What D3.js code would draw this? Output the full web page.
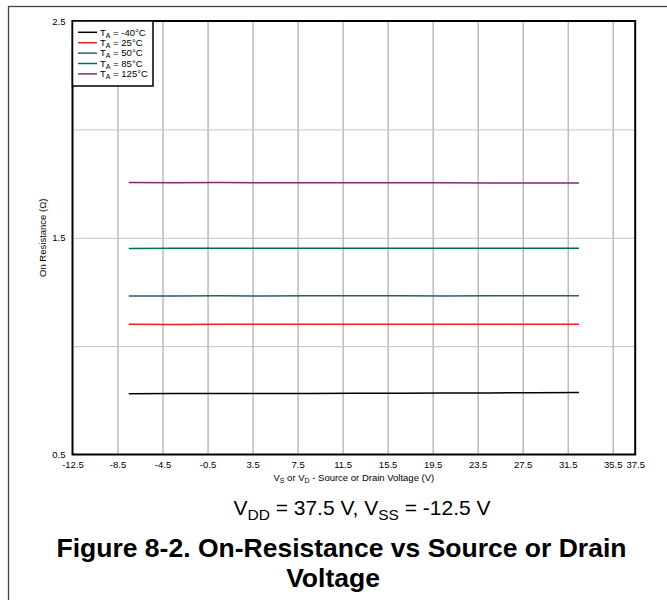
<!DOCTYPE html>
<html><head><meta charset="utf-8">
<script src="https://cdn.jsdelivr.net/npm/d3@7/dist/d3.min.js"></script>
<style>
body{margin:0;background:#fff;}
text{font-family:"Liberation Sans",Arial,Helvetica,sans-serif;}
</style>
</head><body>
<svg id="chart" width="667" height="600"></svg>
<script>
// ---- data ----
const voltages = [-7.5, -3.5, 0.5, 4.5, 8.5, 12.5, 16.5, 20.5, 24.5, 28.5, 32.5];
const temps = ["-40", "25", "50", "85", "125"];
const rMinus40 = [0.780, 0.781, 0.781, 0.782, 0.782, 0.783, 0.783, 0.784, 0.784, 0.785, 0.786];
const r25  = [1.101, 1.100, 1.101, 1.101, 1.101, 1.101, 1.101, 1.101, 1.101, 1.101, 1.101];
const r50  = [1.231, 1.231, 1.232, 1.231, 1.232, 1.232, 1.232, 1.231, 1.232, 1.232, 1.232];
const r85  = [1.450, 1.451, 1.451, 1.452, 1.451, 1.452, 1.452, 1.451, 1.452, 1.452, 1.452];
const r125 = [1.755, 1.754, 1.755, 1.754, 1.754, 1.754, 1.754, 1.754, 1.753, 1.753, 1.753];
const xTickValues = [-12.5, -8.5, -4.5, -0.5, 3.5, 7.5, 11.5, 15.5, 19.5, 23.5, 27.5, 31.5, 35.5, 37.5];
const xGridValues = [-8.5, -4.5, -0.5, 3.5, 7.5, 11.5, 15.5, 19.5, 23.5, 27.5, 31.5, 35.5];
const yTickValues = [0.5, 1.5, 2.5];
const yGridValues = [1.0, 1.5, 2.0];
const colors = ["#000000", "#ee1c25", "#2e5a70", "#00704a", "#7d2d6f"];

const series = [rMinus40, r25, r50, r85, r125].map((vals, i) => ({
  name: temps[i],
  color: colors[i],
  points: voltages.map((v, j) => ({x: v, y: vals[j]}))
}));

// ---- layout ----
const svg = d3.select("#chart");
const L = 72.5, R = 635.2, T = 21, B = 454.5;
const x = d3.scaleLinear().domain([-12.5, 37.5]).range([L, R]);
const y = d3.scaleLinear().domain([0.5, 2.5]).range([B, T]);

// outer frame
svg.append("rect").attr("x", 8.5).attr("y", 6.5).attr("width", 700).attr("height", 700)
  .attr("fill", "none").attr("stroke", "#444").attr("stroke-width", 1.3);

// grid
svg.append("g").attr("transform", `translate(0,${B})`)
  .call(d3.axisBottom(x).tickValues(xGridValues).tickSize(-(B - T)).tickFormat(""))
  .call(g => g.select(".domain").remove())
  .call(g => g.selectAll("line").attr("stroke", "#9a9a9a").attr("stroke-width", 1));
svg.append("g").attr("transform", `translate(${L},0)`)
  .call(d3.axisLeft(y).tickValues(yGridValues).tickSize(-(R - L)).tickFormat(""))
  .call(g => g.select(".domain").remove())
  .call(g => g.selectAll("line").attr("stroke", "#c4c4c4").attr("stroke-width", 1));

// tick labels
svg.append("g").attr("transform", `translate(0,${B + 4})`)
  .call(d3.axisBottom(x).tickValues(xTickValues).tickSize(0).tickFormat(d => d.toFixed(1)))
  .call(g => g.select(".domain").remove())
  .call(g => g.selectAll("text").attr("font-size", 9.5).attr("fill", "#000")
    .attr("font-family", "'Liberation Sans',Arial,sans-serif"));
svg.append("g").attr("transform", `translate(${L - 4},0)`)
  .call(d3.axisLeft(y).tickValues(yTickValues).tickSize(0).tickFormat(d => d.toFixed(1)))
  .call(g => g.select(".domain").remove())
  .call(g => g.selectAll("text").attr("font-size", 9.5).attr("fill", "#000")
    .attr("font-family", "'Liberation Sans',Arial,sans-serif"));

// lines
const line = d3.line().x(d => x(d.x)).y(d => y(d.y));
svg.append("g").selectAll("path").data(series).join("path")
  .attr("d", d => line(d.points)).attr("fill", "none")
  .attr("stroke", d => d.color).attr("stroke-width", 1.5);

// plot border
svg.append("rect").attr("x", L).attr("y", T).attr("width", R - L).attr("height", B - T)
  .attr("fill", "none").attr("stroke", "#000").attr("stroke-width", 2);

// axis titles
const xt = svg.append("text").attr("x", (L + R) / 2).attr("y", 481).attr("text-anchor", "middle")
  .attr("font-size", 9.5).attr("fill", "#000");
xt.append("tspan").text("V");
xt.append("tspan").attr("font-size", 7).attr("dy", 2).text("S");
xt.append("tspan").attr("dy", -2).text(" or V");
xt.append("tspan").attr("font-size", 7).attr("dy", 2).text("D");
xt.append("tspan").attr("dy", -2).text(" - Source or Drain Voltage (V)");

svg.append("text").attr("transform", `translate(46,${(T + B) / 2}) rotate(-90)`)
  .attr("text-anchor", "middle").attr("font-size", 9.5).attr("fill", "#000")
  .text("On Resistance (\u03A9)");

// legend
const lg = svg.append("g");
lg.append("rect").attr("x", L).attr("y", T).attr("width", 80.5).attr("height", 65)
  .attr("fill", "#fff").attr("stroke", "#000").attr("stroke-width", 1.5);
series.forEach((s, i) => {
  const yy = 32.3 + i * 10.4;
  lg.append("line").attr("x1", 78).attr("x2", 97).attr("y1", yy).attr("y2", yy)
    .attr("stroke", s.color).attr("stroke-width", 1.5);
  const t = lg.append("text").attr("x", 100).attr("y", yy + 3.3).attr("font-size", 9.5).attr("fill", "#000");
  t.append("tspan").text("T");
  t.append("tspan").attr("font-size", 7).attr("dy", 2).text("A");
  t.append("tspan").attr("dy", -2).text(" = " + s.name + "\u00B0C");
});

// subtitle
const st = svg.append("text").attr("x", 362).attr("y", 515).attr("text-anchor", "middle")
  .attr("font-size", 21).attr("fill", "#000");
st.append("tspan").text("V");
st.append("tspan").attr("font-size", 15.5).attr("dy", 4.5).text("DD");
st.append("tspan").attr("dy", -4.5).text(" = 37.5 V, V");
st.append("tspan").attr("font-size", 15.5).attr("dy", 4.5).text("SS");
st.append("tspan").attr("dy", -4.5).text(" = -12.5 V");

// figure title
svg.append("text").attr("x", 341.5).attr("y", 557).attr("text-anchor", "middle")
  .attr("font-size", 26.5).attr("font-weight", "bold").attr("fill", "#000")
  .text("Figure 8-2. On-Resistance vs Source or Drain");
svg.append("text").attr("x", 333).attr("y", 587).attr("text-anchor", "middle")
  .attr("font-size", 26.5).attr("font-weight", "bold").attr("fill", "#000")
  .text("Voltage");
</script>
</body></html>
